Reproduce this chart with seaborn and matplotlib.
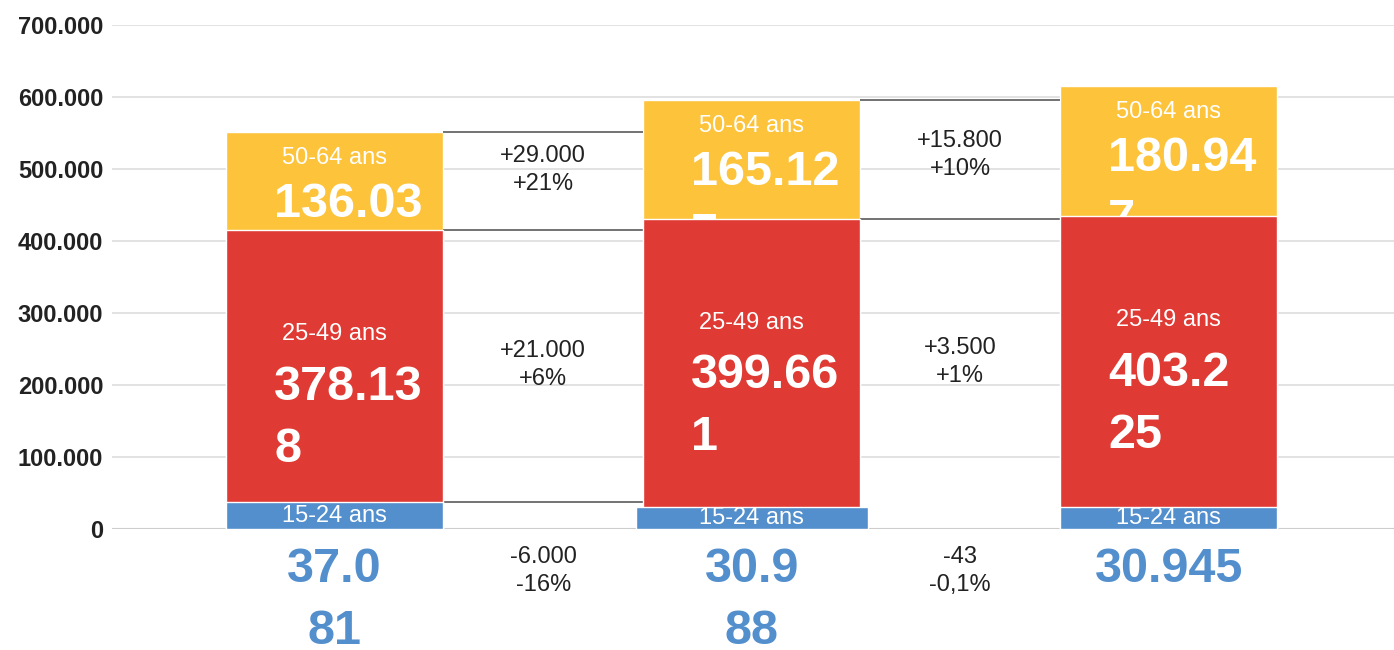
import numpy as np
import pandas as pd
import matplotlib.pyplot as plt
import seaborn as sns

# data
periods = ['P1', 'P2', 'P3']
age_groups = ['15-24 ans', '25-49 ans', '50-64 ans']
young = [37081, 30988, 30945]
middle = [378138, 399661, 403225]
senior = [136031, 165127, 180947]

# value labels as they are wrapped in the original
young_labels = ['37.0\n81', '30.9\n88', '30.945']
middle_labels = ['378.13\n8', '399.66\n1', '403.2\n25']
senior_labels = ['136.03\n1', '165.12\n7', '180.94\n7']

# change between consecutive periods
delta_young = ['-6.000\n-16%', '-43\n-0,1%']
delta_middle = ['+21.000\n+6%', '+3.500\n+1%']
delta_senior = ['+29.000\n+21%', '+15.800\n+10%']

# which stacked levels get a connector line between bars
connector_levels = [['total', 'top_mid', 'young'], ['total', 'top_mid']]

YELLOW = '#FDC33B'
RED = '#DF3A33'
BLUE = '#538FCC'
TXT = '#222222'
W = 0.52
BIGSIZE = 35

df = pd.DataFrame({'period': periods, 'young': young,
                   'middle': middle, 'senior': senior})
df['top_mid'] = df['young'] + df['middle']
df['total'] = df['top_mid'] + df['senior']

sns.set_style('white')
plt.rcParams['font.family'] = ['Liberation Sans', 'DejaVu Sans']

fig = plt.figure(figsize=(13.94, 6.5), dpi=100)
ax = fig.add_axes([0.080, 0.186, 0.92, 0.7755])

sns.barplot(data=df, x='period', y='total', color=YELLOW, width=W,
            saturation=1, errorbar=None, ax=ax, zorder=2)
sns.barplot(data=df, x='period', y='top_mid', color=RED, width=W,
            saturation=1, errorbar=None, ax=ax, zorder=4)
sns.barplot(data=df, x='period', y='young', color=BLUE, width=W,
            saturation=1, errorbar=None, ax=ax, zorder=6)

# middle blue bar is a bit wider in the original
p = ax.patches[-2]
w = p.get_width()
p.set_x(p.get_x() - w * 0.035)
p.set_width(w * 1.07)

ax.set_xlim(-0.535, 2.54)
ax.set_ylim(0, 700000)
ax.set_xticks([])
ax.set_xlabel('')
ax.set_ylabel('')
yt = np.arange(0, 700001, 100000)
ax.set_yticks(yt)
ax.set_yticklabels([f'{v:,}'.replace(',', '.') for v in yt],
                   fontsize=17, fontweight='bold', color=TXT)
ax.tick_params(axis='y', length=0, pad=6)
ax.yaxis.grid(True, color='#dddddd', lw=1.2)
ax.set_axisbelow(True)
ax.axhline(0, color='#cccccc', lw=1.5, zorder=1)
for s in ax.spines.values():
    s.set_visible(False)

# connector lines
for i, levels in enumerate(connector_levels):
    for lev in levels:
        ax.hlines(df[lev][i], i + W / 2, i + 1 - W / 2,
                  color='#5a5a5a', lw=1.2, zorder=3)

for i in range(len(periods)):
    left = i - W / 2
    # 50-64
    ax.annotate(age_groups[2], (i, df['total'][i]), xytext=(0, -26),
                textcoords='offset pixels', ha='center', va='center',
                color='white', fontsize=17, zorder=3)
    for k, line in enumerate(senior_labels[i].split('\n')):
        ax.annotate(line, (left, df['total'][i]), xytext=(48, -72 - 62 * k),
                    textcoords='offset pixels', ha='left', va='center',
                    color='white', fontsize=BIGSIZE, fontweight='bold',
                    zorder=3)
    # 25-49
    ax.annotate(age_groups[1], (i, df['top_mid'][i]), xytext=(0, -104),
                textcoords='offset pixels', ha='center', va='center',
                color='white', fontsize=17, zorder=5)
    for k, line in enumerate(middle_labels[i].split('\n')):
        ax.annotate(line, (left, df['top_mid'][i]), xytext=(48, -157 - 62 * k),
                    textcoords='offset pixels', ha='left', va='center',
                    color='white', fontsize=BIGSIZE, fontweight='bold',
                    zorder=5)
    # 15-24
    ax.text(i, df['young'][i] / 2, age_groups[0], ha='center', va='center',
            color='white', fontsize=17, zorder=7)
    for k, line in enumerate(young_labels[i].split('\n')):
        ax.annotate(line, (i, 0), xytext=(0, -40 - 62 * k),
                    textcoords='offset pixels', ha='center', va='center',
                    color=BLUE, fontsize=BIGSIZE, fontweight='bold',
                    annotation_clip=False)

# change labels between bars
for i in range(len(periods) - 1):
    x = i + 0.5
    y_sen = np.mean([df['top_mid'][j] + df['senior'][j] / 2 for j in (i, i + 1)])
    y_mid = np.mean([df['young'][j] + df['middle'][j] / 2 for j in (i, i + 1)])
    ax.text(x, y_sen, delta_senior[i], ha='center', va='center',
            fontsize=17, color=TXT, linespacing=1.35)
    ax.text(x, y_mid, delta_middle[i], ha='center', va='center',
            fontsize=17, color=TXT, linespacing=1.35)
    ax.annotate(delta_young[i], (x, 0), xytext=(0, -42),
                textcoords='offset pixels', ha='center', va='center',
                fontsize=17, color=TXT, linespacing=1.35,
                annotation_clip=False)

plt.savefig('out.png', dpi=100)
